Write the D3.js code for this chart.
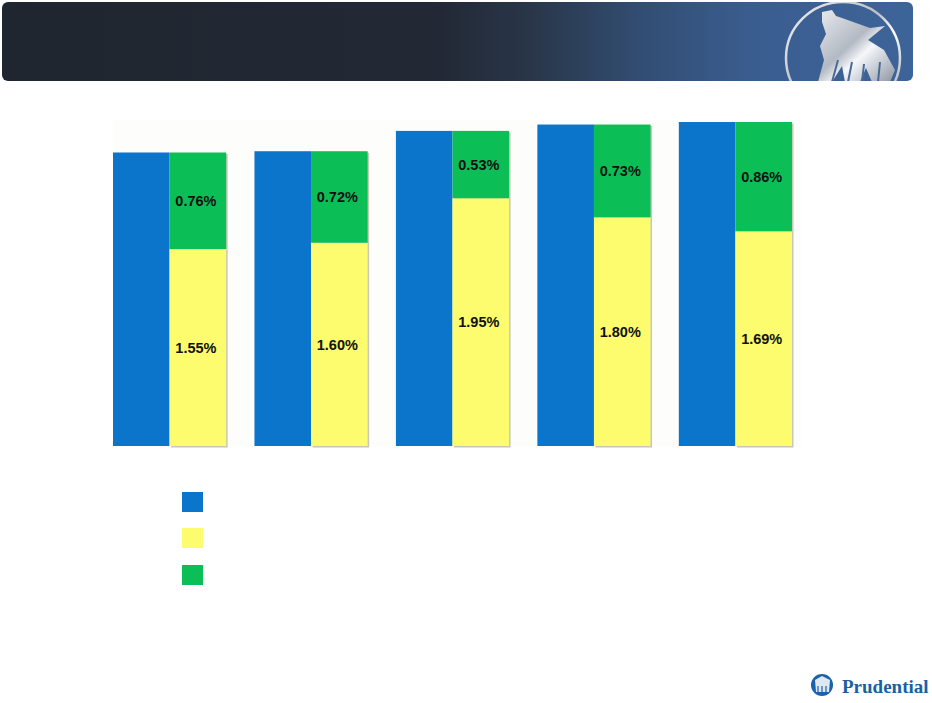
<!DOCTYPE html>
<html>
<head>
<meta charset="utf-8">
<script src="https://cdn.jsdelivr.net/npm/d3@7"></script>
<style>
  html, body { margin: 0; padding: 0; background: #ffffff; }
  svg { display: block; }
</style>
</head>
<body>
<svg id="chart" width="932" height="703"></svg>
<script>
// ---- data ----
const categories = ["Period 1", "Period 2", "Period 3", "Period 4", "Period 5"];
const totalValues = [2.31, 2.32, 2.48, 2.53, 2.55];     // blue bars
const lowerValues = [1.55, 1.60, 1.95, 1.80, 1.69];     // yellow segment
const upperValues = [0.76, 0.72, 0.53, 0.73, 0.86];     // green segment
const seriesKeys = ["total", "lower", "upper"];
const seriesColors = ["#0b74cb", "#fcfc6e", "#0bbf56"];

const svg = d3.select("#chart");
const defs = svg.append("defs");

// ---- header banner ----
const hg = defs.append("linearGradient").attr("id", "hdr").attr("x1", "0").attr("x2", "1").attr("y1", "0").attr("y2", "0");
[[0, "#20262f"], [0.48, "#222935"], [0.58, "#293649"], [0.7, "#324d72"], [0.82, "#3a5d8f"], [1, "#3d6499"]]
  .forEach(([o, c]) => hg.append("stop").attr("offset", o).attr("stop-color", c));
svg.append("rect").attr("x", 2).attr("y", 2).attr("width", 911).attr("height", 79)
  .attr("rx", 6).attr("fill", "url(#hdr)");

// logo in header
const lg = defs.append("linearGradient").attr("id", "silver").attr("x1", "0").attr("x2", "1").attr("y1", "0").attr("y2", "1");
[[0, "#f2f2f2"], [0.45, "#b9bec6"], [0.6, "#ffffff"], [1, "#8f97a3"]]
  .forEach(([o, c]) => lg.append("stop").attr("offset", o).attr("stop-color", c));
defs.append("clipPath").attr("id", "hclip").append("rect")
  .attr("x", 2).attr("y", 2).attr("width", 911).attr("height", 79);
const logo = svg.append("g").attr("clip-path", "url(#hclip)");
logo.append("ellipse").attr("cx", 843).attr("cy", 58).attr("rx", 57).attr("ry", 56)
  .attr("fill", "none").attr("stroke", "url(#silver)").attr("stroke-width", 2.5);
logo.append("path")
  .attr("d", "M822,12 L832,10 L836,16 L842,18 L870,28 L885,26 L868,40 L884,50 L895,70 L890,82 L872,82 L866,68 L860,82 L845,82 L842,66 L832,82 L818,82 L824,60 L820,46 L826,34 L822,22 Z")
  .attr("fill", "url(#silver)").attr("opacity", 0.95);
logo.append("path")
  .attr("d", "M832,82 L838,60 M848,82 L852,62 M862,82 L864,64 M878,82 L880,62")
  .attr("stroke", "#4a6a96").attr("stroke-width", 2).attr("fill", "none");

// ---- plot area ----
const x0 = 113, x1 = 792, yBottom = 446, yTopRef = 120;
svg.append("rect").attr("x", x0).attr("y", yTopRef).attr("width", 688).attr("height", yBottom - yTopRef + 1)
  .attr("fill", "#fdfdfb");

const x = d3.scaleBand().domain(categories).range([x0, x1]).paddingInner(0.2).paddingOuter(0);
const sub = d3.scaleBand().domain(["total", "stack"]).range([0, x.bandwidth()]).padding(0);
const y = d3.scaleLinear().domain([0, 2.55]).range([yBottom, 122]);

const rows = categories.map((c, i) => ({ cat: c, total: totalValues[i], lower: lowerValues[i], upper: upperValues[i] }));
const stack = d3.stack().keys(["lower", "upper"])(rows);

const g = svg.append("g");

// blue bars
g.selectAll("rect.total").data(rows).join("rect")
  .attr("class", "total")
  .attr("x", d => x(d.cat) + sub("total"))
  .attr("width", sub.bandwidth())
  .attr("y", d => y(d.total))
  .attr("height", d => y(0) - y(d.total))
  .attr("fill", seriesColors[0]);

// shadow behind stacked columns
g.selectAll("rect.shadow").data(rows).join("rect")
  .attr("class", "shadow")
  .attr("x", d => x(d.cat) + sub("stack") + 1.5)
  .attr("width", sub.bandwidth())
  .attr("y", d => y(d.lower + d.upper) + 1.5)
  .attr("height", d => y(0) - y(d.lower + d.upper))
  .attr("fill", "#c9c8b8");

// stacked segments
stack.forEach((layer, li) => {
  g.selectAll("rect.s" + li).data(layer).join("rect")
    .attr("class", "s" + li)
    .attr("x", d => x(d.data.cat) + sub("stack"))
    .attr("width", sub.bandwidth())
    .attr("y", d => y(d[1]))
    .attr("height", d => y(d[0]) - y(d[1]))
    .attr("fill", seriesColors[li + 1]);
  g.selectAll("text.l" + li).data(layer).join("text")
    .attr("class", "l" + li)
    .attr("x", d => x(d.data.cat) + sub("stack") + sub.bandwidth() / 2 - 2)
    .attr("y", d => (y(d[0]) + y(d[1])) / 2)
    .attr("dy", "0.36em")
    .attr("text-anchor", "middle")
    .attr("font-family", "Liberation Sans, Arial, sans-serif")
    .attr("font-weight", "bold")
    .attr("font-size", 14.5)
    .attr("fill", "#111")
    .text(d => d3.format(".2f")(d[1] - d[0]) + "%");
});

// ---- legend (swatches only) ----
const legendY = [492, 528, 565];
svg.selectAll("rect.leg").data(seriesKeys).join("rect")
  .attr("class", "leg")
  .attr("x", 182).attr("y", (d, i) => legendY[i])
  .attr("width", 21).attr("height", 20)
  .attr("fill", (d, i) => seriesColors[i]);

// ---- Prudential logo bottom right ----
const pl = svg.append("g");
pl.append("circle").attr("cx", 822).attr("cy", 685).attr("r", 11).attr("fill", "#1b63a8");
pl.append("path")
  .attr("d", "M815,680 L822,676 L830,680 L829,692 L816,692 Z")
  .attr("fill", "#ffffff").attr("opacity", 0.85);
pl.append("path")
  .attr("d", "M818,686 L818,692 M822,686 L822,692 M826,686 L826,692")
  .attr("stroke", "#1b63a8").attr("stroke-width", 1.2);
pl.append("text").attr("x", 842).attr("y", 693)
  .attr("font-family", "Liberation Serif, Times New Roman, serif")
  .attr("font-weight", "bold").attr("font-size", 19)
  .attr("fill", "#1b5fa3").text("Prudential");
</script>
</body>
</html>
